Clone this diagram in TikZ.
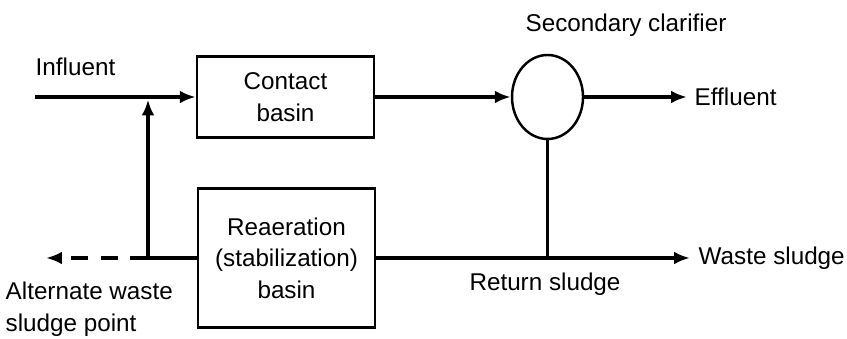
\documentclass[tikz,border=0pt]{standalone}
\usepackage{fontspec}
\setmainfont{Liberation Sans}
\usetikzlibrary{arrows.meta,shapes.geometric}

\begin{document}
\begin{tikzpicture}[x=1cm,y=1cm,
    font=\fontsize{6.9}{9}\selectfont,
    flow/.style={line width=1.1pt,-{Latex[length=4.5pt,width=3.6pt]}},
    pipe/.style={line width=1.1pt},
    basin/.style={draw,line width=0.7pt,align=center,inner sep=0pt},
    tag/.style={inner sep=0pt}]
    \useasboundingbox (0,0) rectangle (8.47,3.38);

    % Basins and clarifier
    \node[basin,minimum width=1.77cm,minimum height=0.81cm] (contact) at (2.855,2.41) {Contact\\basin};
    \node[basin,minimum width=1.77cm,minimum height=1.39cm] (reaeration) at (2.865,0.80) {Reaeration\\(stabilization)\\basin};
    \node[ellipse,draw,line width=0.7pt,minimum width=0.71cm,minimum height=0.84cm,inner sep=0pt] (clarifier) at (5.475,2.41) {};

    % Labels
    \node[tag,anchor=west] (influent) at (0.35,2.71) {Influent};
    \node[tag] (clarifierlabel) at (6.26,3.13) {Secondary clarifier};
    \node[tag,anchor=west] (effluent) at (6.94,2.41) {Effluent};
    \node[tag,anchor=west] (waste) at (6.98,0.80) {Waste sludge};
    \node[tag] (return) at (5.45,0.54) {Return sludge};
    \node[tag,anchor=west,align=left] (alternate) at (0.05,0.29) {Alternate waste\\sludge point};

    % Pipe ends and bends
    \coordinate (in) at (0.35,2.41);
    \coordinate (split) at (1.48,2.385);
    \coordinate (recycle) at (1.48,0.80);
    \coordinate (alt) at (0.46,0.80);
    \coordinate (junction) at (5.475,0.80);
    \coordinate (out) at (6.87,2.41);
    \coordinate (wasteend) at (6.90,0.80);

    % Flow lines
    \draw[flow] (in) -- (contact.west);
    \draw[flow] (contact.east) -- (clarifier.west);
    \draw[flow] (clarifier.east) -- (out);
    \draw[pipe] (clarifier.south) -- (junction);
    \draw[flow] (reaeration.east) -- (wasteend);
    \draw[flow] (reaeration.west) -- (recycle) -- (split);
    \draw[flow,dash pattern=on 5pt off 3.5pt] (recycle) -- (alt);
\end{tikzpicture}
\end{document}
